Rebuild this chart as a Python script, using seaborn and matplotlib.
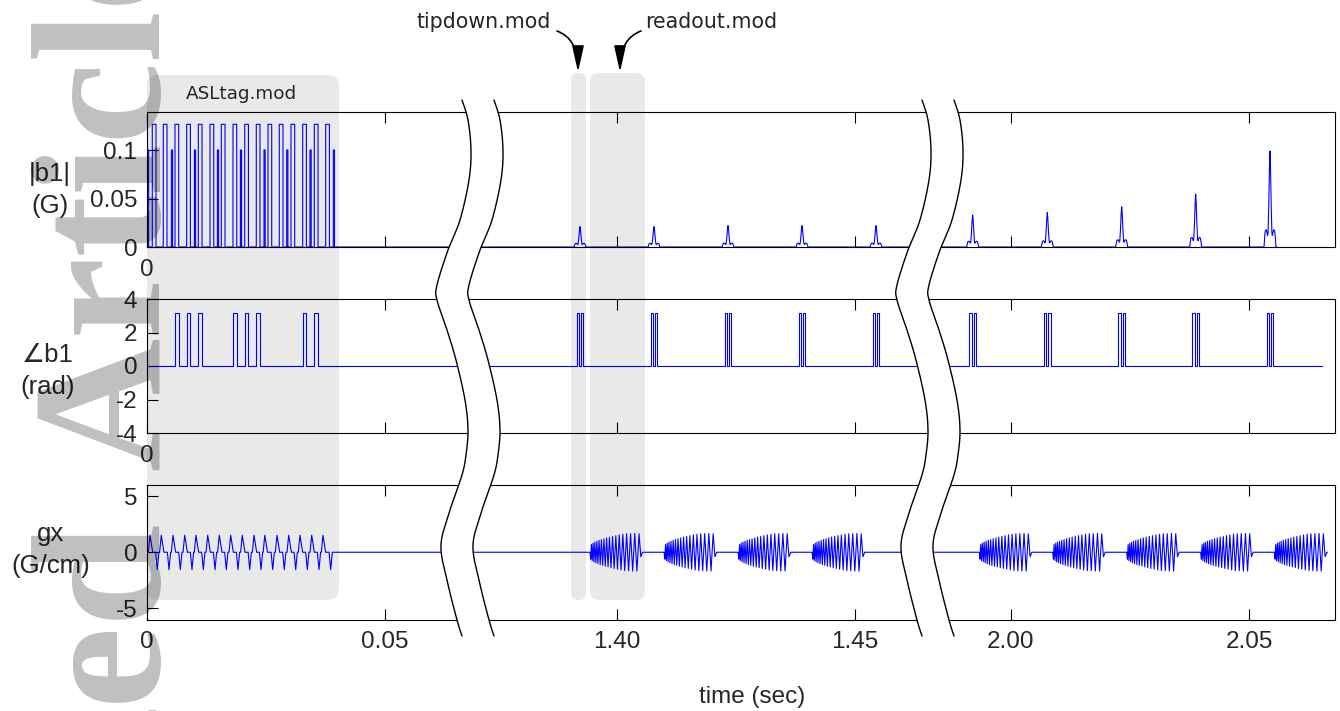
import numpy as np
import matplotlib
matplotlib.use("Agg")
import matplotlib.pyplot as plt
import seaborn as sns
from matplotlib.patches import FancyBboxPatch, FancyArrowPatch, Polygon

# ------------------------------------------------------------------ data
# ASL tagging train (segment 1) -- times in s
tag_rf_start = [0.00111, 0.00342, 0.00588, 0.00834, 0.01078, 0.01324, 0.01561, 0.01807,
                0.02053, 0.02296, 0.02542, 0.02779, 0.03025, 0.03271, 0.03515, 0.03754]
tag_rf_width = 0.00078
tag_rf_amp = 0.1265                      # G
tag_rf_phase = [0, 0, np.pi, np.pi, np.pi, 0, 0, np.pi, np.pi, np.pi, 0, 0, 0, np.pi, np.pi, 0]
tag_spike_t = [0.00010, 0.00512, 0.00996, 0.01479, 0.01962, 0.02458, 0.02935, 0.03424, 0.03914]
tag_spike_width = 0.00025
tag_spike_amp = 0.100
tag_gx_pos_t = [0.00063, 0.00300, 0.00546, 0.00792, 0.01029, 0.01275, 0.01519, 0.01758,
                0.02002, 0.02248, 0.02475, 0.02731, 0.02977, 0.03214, 0.03460, 0.03697]
tag_gx_neg_t = [0.00216, 0.00462, 0.00700, 0.00945, 0.01183, 0.01429, 0.01666, 0.01912,
                0.02158, 0.02395, 0.02641, 0.02884, 0.03124, 0.03368, 0.03613, 0.03859]
tag_gx_pos_amp = 1.52                    # G/cm
tag_gx_neg_amp = -1.55
tag_gx_pos_ramp_ms = (0.35, 0.56)        # rise, fall
tag_gx_neg_ramp_ms = (0.34, 0.34)

# tipdown excitations (segments 2 and 3)
rf_peak_t = [1.39223, 1.40777, 1.42332, 1.43887, 1.45441,
             1.99195, 2.00763, 2.02326, 2.03880, 2.05441]
rf_peak_amp = [0.021, 0.021, 0.022, 0.022, 0.022,
               0.033, 0.0355, 0.0415, 0.0545, 0.099]
rf_shape_ms = [-1.25, -1.15, -1.0, -0.75, -0.5, -0.4, -0.25, -0.1, 0.0,
               0.1, 0.25, 0.4, 0.5, 0.75, 1.0, 1.15, 1.25]
rf_shape_rel = [0.0, 0.08, 0.17, 0.18, 0.12, 0.15, 0.45, 0.85, 1.0,
                0.85, 0.45, 0.15, 0.12, 0.18, 0.17, 0.08, 0.0]
rf_phase_lobes_ms = [(-0.71, -0.21), (0.21, 0.71)]

# spiral readout gradient blocks (extrema of one block, ms from block start)
gx_block_t = [1.39433, 1.40990, 1.42545, 1.44100,
              1.99334, 2.00876, 2.02431, 2.03985, 2.05532]
gx_ro_ms = [0.0, 0.15, 0.30, 0.47, 0.65, 0.83, 1.02, 1.23, 1.44, 1.66, 1.90,
            2.14, 2.39, 2.65, 2.92, 3.20, 3.49, 3.79, 4.09, 4.41, 4.74,
            5.07, 5.42, 5.77, 6.14, 6.51, 6.90, 7.29, 7.69, 8.10, 8.52,
            8.96, 9.40, 9.85, 10.30, 10.67, 11.03]
gx_ro_val = [0.0, -0.62, 0.69, -0.75, 0.81, -0.85, 0.90, -0.94, 0.98, -1.02, 1.06,
             -1.10, 1.13, -1.17, 1.21, -1.24, 1.28, -1.31, 1.35, -1.38, 1.41,
             -1.45, 1.48, -1.51, 1.55, -1.58, 1.61, -1.64, 1.65, -1.65, 1.66,
             -1.68, 1.68, -1.68, 1.65, -0.40, 0.0]

trace_end_t = {"b1": 2.05588, "phase": 2.06534, "gx": 2.06650}

# broken time axis: segment t-ranges and their offsets
seg_t = [(0.0, 0.06814), (1.36940, 1.46600), (1.98323, 2.0700)]
seg_offset = [0.0, 1.30126, 1.81849]
x_ticks_t = [0.0, 0.05, 1.40, 1.45, 2.00, 2.05]
x_tick_labels = ["0", "0.05", "1.40", "1.45", "2.00", "2.05"]

y_ticks = {"b1": [0, 0.05, 0.1], "phase": [-4, -2, 0, 2, 4], "gx": [-5, 0, 5]}
y_tick_labels = {"b1": ["0", "0.05", "0.1"], "phase": ["-4", "-2", "0", "2", "4"],
                 "gx": ["-5", "0", "5"]}
y_lims = {"b1": (0, 0.1392), "phase": (-4, 4), "gx": (-6, 6)}
y_titles = {"b1": "|b1|\n(G)", "phase": "\u2220b1\n(rad)", "gx": "gx\n(G/cm)"}
module_names = ["ASLtag.mod", "tipdown.mod", "readout.mod"]


def to_u(t):
    t = np.asarray(t, float)
    off = np.where(t < 1.0, seg_offset[0], np.where(t < 1.9, seg_offset[1], seg_offset[2]))
    return t - off


def rect(t0, w, h):
    return [(t0, 0.0), (t0, h), (t0 + w, h), (t0 + w, 0.0)]


def assemble(events, t_end):
    pts = [(0.0, 0.0)]
    bounds = [[(seg_t[0][1], 0.0)], [(seg_t[1][0], 0.0)], [(seg_t[1][1], 0.0)], [(seg_t[2][0], 0.0)]]
    ev = sorted(events + bounds, key=lambda e: e[0][0])
    for e in ev:
        pts.extend([p for p in e if p[0] <= t_end])
    if pts[-1][0] < t_end and pts[-1][1] == 0.0:
        pts.append((t_end, 0.0))
    arr = np.array(pts)
    return to_u(arr[:, 0]), arr[:, 1]


# |b1|
ev_b1 = [rect(s, tag_rf_width, tag_rf_amp) for s in tag_rf_start]
ev_b1 += [rect(s, tag_spike_width, tag_spike_amp) for s in tag_spike_t]
for tp, a in zip(rf_peak_t, rf_peak_amp):
    ev_b1.append([(tp + o * 1e-3, a * r) for o, r in zip(rf_shape_ms, rf_shape_rel)])
u_b1, y_b1 = assemble(ev_b1, trace_end_t["b1"])

# phase
ev_ph = [rect(s, tag_rf_width, ph) for s, ph in zip(tag_rf_start, tag_rf_phase)]
for tp in rf_peak_t:
    for a, b in rf_phase_lobes_ms:
        ev_ph.append(rect(tp + a * 1e-3, (b - a) * 1e-3, np.pi))
u_ph, y_ph = assemble(ev_ph, trace_end_t["phase"])

# gx
ev_gx = []
for tp in tag_gx_pos_t:
    r, f = tag_gx_pos_ramp_ms
    ev_gx.append([(tp - r * 1e-3, 0.0), (tp, tag_gx_pos_amp), (tp + f * 1e-3, 0.0)])
for tn in tag_gx_neg_t:
    r, f = tag_gx_neg_ramp_ms
    ev_gx.append([(tn - r * 1e-3, 0.0), (tn, tag_gx_neg_amp), (tn + f * 1e-3, 0.0)])
for tb in gx_block_t:
    ev_gx.append([(tb + o * 1e-3, v) for o, v in zip(gx_ro_ms, gx_ro_val)])
u_gx, y_gx = assemble(ev_gx, trace_end_t["gx"])

# ------------------------------------------------------------------ figure
sns.set_theme(style="white")
plt.rcParams["font.family"] = ["Liberation Sans", "DejaVu Sans"]
W, H = 1340, 711
fig = plt.figure(figsize=(W / 100, H / 100), dpi=100)
fig.patch.set_facecolor("white")

bg = fig.add_axes([0, 0, 1, 1], zorder=-5)
bg.set_xlim(0, W); bg.set_ylim(H, 0); bg.axis("off")
for (x0, x1, y0, y1, r) in [(147, 339, 75, 600, 11), (571, 586, 73, 600, 7), (590, 645, 73, 600, 9)]:
    bg.add_patch(FancyBboxPatch((x0, y0), x1 - x0, y1 - y0,
                                boxstyle=f"round,pad=0,rounding_size={r}",
                                fc="#e9e9e9", ec="none"))

ax_left, ax_right = 147, 1335
panels = [("b1", 112, 247, u_b1, y_b1), ("phase", 299, 433, u_ph, y_ph), ("gx", 485, 619.5, u_gx, y_gx)]
u_max = 0.24958
tick_u = to_u(x_ticks_t)
label_xy = {"b1": (50, 190), "phase": (48, 371), "gx": (51, 550)}
axes = []
for key, ytop, ybot, u, y in panels:
    ax = fig.add_axes([ax_left / W, 1 - ybot / H, (ax_right - ax_left) / W, (ybot - ytop) / H])
    ax.set_facecolor("none")
    sns.lineplot(x=u, y=y, ax=ax, estimator=None, sort=False, color="#0000ff", lw=0.8)
    ax.set_xlim(0, u_max)
    ax.set_ylim(*y_lims[key])
    ax.set_yticks(y_ticks[key])
    ax.set_yticklabels(y_tick_labels[key])
    ax.set_xticks(tick_u)
    if key == "gx":
        ax.set_xticklabels(x_tick_labels)
    else:
        ax.set_xticklabels(["0"] + [""] * (len(x_tick_labels) - 1))
    ax.tick_params(axis="x", direction="in", length=7.7, width=0.8, top=True, bottom=True,
                   pad=8.5, labelsize=17.5, color="black")
    ax.tick_params(axis="y", direction="in", length=7.7, width=0.8, left=True, right=False,
                   pad=7, labelsize=17.5, color="black")
    for s in ax.spines.values():
        s.set_color("black"); s.set_linewidth(0.8); s.set_visible(True)
    lx, ly = label_xy[key]
    ax.set_ylabel(y_titles[key], rotation=0, ha="center", va="center", fontsize=18.5,
                  linespacing=1.4)
    ax.yaxis.set_label_coords((lx - ax_left) / (ax_right - ax_left), (ybot - ly) / (ybot - ytop))
    ax.set_xlabel("")
    axes.append(ax)

axes[2].set_xlabel("time (sec)", fontsize=17.5)
axes[2].xaxis.set_label_coords((752 - ax_left) / (ax_right - ax_left), (619.5 - 686) / 134.5)

# ------------------------------------------------------------------ overlay
fg = fig.add_axes([0, 0, 1, 1], zorder=10)
fg.set_xlim(0, W); fg.set_ylim(H, 0); fg.axis("off")
fg.patch.set_alpha(0)


def catmull(pts, n=24):
    P = np.array(pts, float)
    P = np.vstack([P[0], P, P[-1]])
    out = []
    for i in range(1, len(P) - 2):
        p0, p1, p2, p3 = P[i - 1], P[i], P[i + 1], P[i + 2]
        for s in np.linspace(0, 1, n, endpoint=False):
            out.append(0.5 * ((2 * p1) + (-p0 + p2) * s + (2 * p0 - 5 * p1 + 4 * p2 - p3) * s ** 2
                              + (-p0 + 3 * p1 - 3 * p2 + p3) * s ** 3))
    out.append(P[-2])
    return np.array(out)


break_ctrl = [(462, 100), (468, 120), (471, 150), (469, 180), (460, 220), (448, 250), (437, 285),
              (437, 300), (447, 330), (456, 360), (465, 400), (468, 430), (466, 455), (462, 475),
              (450, 510), (441, 545), (447, 580), (457, 620), (462, 636)]
curve = catmull(break_ctrl)
for shift in (0, 460):
    left = curve + np.array([shift, 0])
    right = curve + np.array([shift + 32, 0])
    poly = np.vstack([left, right[::-1]])
    fg.add_patch(Polygon(poly, closed=True, fc="white", ec="none"))
    fg.plot(left[:, 0], left[:, 1], color="black", lw=1.0)
    fg.plot(right[:, 0], right[:, 1], color="black", lw=1.0)

fg.text(241, 99, module_names[0], ha="center", va="baseline", fontsize=13.2, family="DejaVu Sans")
fg.text(484, 28.5, module_names[1], ha="center", va="baseline", fontsize=14.8, family="DejaVu Sans")
fg.text(711, 28.5, module_names[2], ha="center", va="baseline", fontsize=14.8, family="DejaVu Sans")
for pa, pb, angA in [((557, 31), (578, 72), -20), ((641, 31), (620, 72), 20)]:
    fg.add_patch(FancyArrowPatch(pa, pb, connectionstyle=f"angle3,angleA={angA},angleB=90",
                                 arrowstyle="-|>,head_length=1.6,head_width=0.36",
                                 mutation_scale=10, lw=1.2, color="black",
                                 shrinkA=0, shrinkB=0))

# watermark
wm = dict(rotation=90, rotation_mode="anchor", va="baseline", fontsize=133,
          family="Liberation Serif", weight="bold", color="black", alpha=0.25)
fg.text(158, 470, "Article", ha="left", **wm)
fg.text(158, 522, "Accepted", ha="right", **wm)

fig.savefig("out.png", dpi=100, facecolor="white")
